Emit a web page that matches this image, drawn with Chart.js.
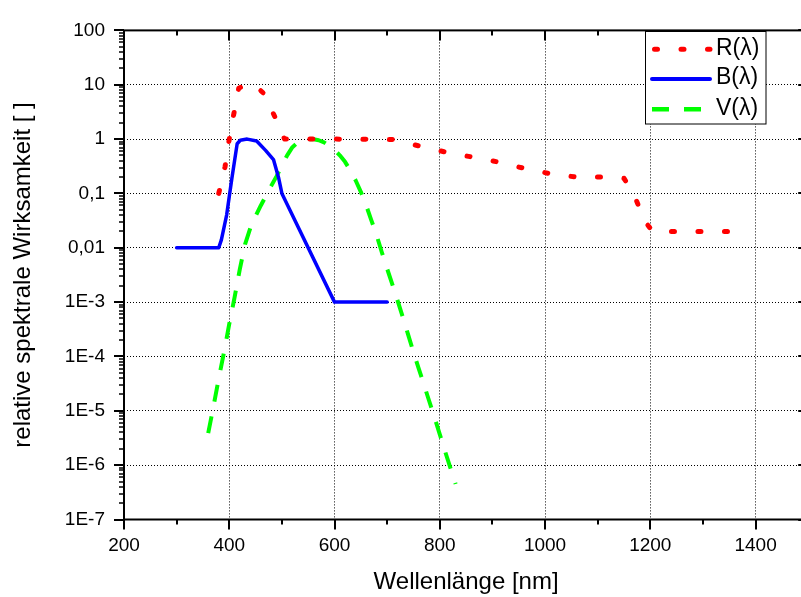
<!DOCTYPE html>
<html><head><meta charset="utf-8">
<script src="https://cdn.jsdelivr.net/npm/chart.js@4.4.0/dist/chart.umd.min.js"></script>
<style>html,body{margin:0;padding:0;background:#fff;overflow:hidden;width:801px;height:597px}canvas{display:block}</style>
</head><body><canvas id="c" width="812" height="597"></canvas>
<script>
// ---- data ----
const rWavelength = [380, 392, 400, 408, 418, 435, 450, 465, 480, 490, 505, 600, 710, 760, 810, 860, 910, 960, 1010, 1060, 1110, 1150, 1170, 1190, 1205, 1370];
const rValues     = [0.1, 0.31, 1.0, 2.7, 8.6, 10.5, 9.5, 7, 3.5, 2.2, 1.0, 1.0, 0.98, 0.75, 0.58, 0.47, 0.38, 0.29, 0.23, 0.2, 0.2, 0.19, 0.09, 0.03, 0.02, 0.02];

const bWavelength = [300, 380, 385, 395, 405, 415, 421, 434, 452, 469, 484, 494, 500, 600, 700];
const bValues     = [0.01, 0.01, 0.014, 0.04, 0.19, 0.82, 0.95, 1.0, 0.92, 0.62, 0.42, 0.19, 0.1, 0.001, 0.001];

const vWavelength = [360, 370, 380, 390, 400, 410, 420, 430, 440, 450, 460, 470, 480, 490, 500, 510, 520, 530, 540, 550, 560, 570, 580, 590, 600, 610, 620, 630, 640, 650, 660, 670, 680, 690, 700, 710, 720, 730, 740, 750, 760, 770, 780, 790, 800, 810, 820, 830];
const vValues     = [3.9e-6, 1.2e-5, 3.9e-5, 1.2e-4, 3.96e-4, 1.21e-3, 4.0e-3, 0.0116, 0.023, 0.038, 0.06, 0.091, 0.139, 0.208, 0.323, 0.503, 0.71, 0.862, 0.954, 0.995, 0.995, 0.952, 0.87, 0.757, 0.631, 0.503, 0.381, 0.265, 0.175, 0.107, 0.061, 0.032, 0.017, 8.2e-3, 4.1e-3, 2.1e-3, 1.05e-3, 5.2e-4, 2.5e-4, 1.2e-4, 6e-5, 3e-5, 1.5e-5, 7.5e-6, 3.7e-6, 1.8e-6, 9e-7, 4.5e-7];

const seriesLabels = ['R(\u03bb)', 'B(\u03bb)', 'V(\u03bb)'];

const xTickValues = [200, 400, 600, 800, 1000, 1200, 1400];
const yTickValues = [1e-7, 1e-6, 1e-5, 1e-4, 1e-3, 0.01, 0.1, 1, 10, 100];
const yTickLabels = ['1E-7', '1E-6', '1E-5', '1E-4', '1E-3', '0,01', '0,1', '1', '10', '100'];

const xTitle = 'Wellenl\u00e4nge [nm]';
const yTitle = 'relative spektrale Wirksamkeit [ ]';

// ---- chart ----
const FONT = '"Liberation Sans", Arial, sans-serif';
const toPoints = (xs, ys) => xs.map((v, i) => ({x: v, y: ys[i]}));

const frameTicks = {
  id: 'frameTicks',
  afterDraw(chart) {
    const {ctx, chartArea: a, scales: {x, y}} = chart;
    ctx.save();
    ctx.setLineDash([]);
    ctx.strokeStyle = '#000';
    ctx.lineWidth = 2;
    const line = (x1, y1, x2, y2) => { ctx.beginPath(); ctx.moveTo(x1, y1); ctx.lineTo(x2, y2); ctx.stroke(); };
    ctx.strokeRect(a.left, a.top, a.right - a.left, a.bottom - a.top);
    const xMin = x.min, xMax = x.max;
    for (let v = xMin; v <= xMax + 1e-6; v += 100) {
      const px = Math.round(x.getPixelForValue(v));
      const len = (Math.round(v) % 200 === 0) ? 10 : 5;
      line(px, a.bottom, px, a.bottom + len);
      line(px, a.top, px, a.top + len);
    }
    for (let e = -7; e <= 2; e++) {
      for (let m = 1; m <= 9; m++) {
        const v = m * Math.pow(10, e);
        if (v > y.max * 1.0001) break;
        const py = Math.round(y.getPixelForValue(v));
        const len = (m === 1) ? 10 : 5;
        ctx.lineWidth = (m === 1) ? 2 : 1.5;
        line(a.left, py, a.left - len, py);
        line(a.right, py, a.right - len, py);
      }
    }
    ctx.restore();
  }
};

const legendBox = {
  id: 'legendBox',
  afterDraw(chart) {
    const {ctx} = chart;
    const bx = 645.5, by = 31.5, bw = 120.5, bh = 92.5;
    ctx.save();
    ctx.fillStyle = '#fff';
    ctx.fillRect(bx, by, bw, bh);
    ctx.strokeStyle = '#000';
    ctx.lineWidth = 1;
    ctx.setLineDash([]);
    ctx.strokeRect(bx, by, bw, bh);
    const rows = [49.3, 79, 109.3];
    chart.data.datasets.forEach((ds, i) => {
      const yy = rows[i];
      ctx.save();
      ctx.strokeStyle = ds.borderColor;
      ctx.lineWidth = ds.legendWidth;
      ctx.lineCap = ds.borderCapStyle;
      ctx.setLineDash(ds.borderDash || []);
      ctx.beginPath();
      ctx.moveTo(ds.legendStart, yy);
      ctx.lineTo(710, yy);
      ctx.stroke();
      ctx.restore();
      ctx.fillStyle = '#000';
      ctx.font = '23px ' + FONT;
      ctx.textBaseline = 'middle';
      ctx.textAlign = 'left';
      ctx.fillText(ds.label, 716, yy - 1);
    });
    ctx.restore();
  }
};

new Chart(document.getElementById('c'), {
  type: 'line',
  data: {
    datasets: [
      {label: seriesLabels[0], data: toPoints(rWavelength, rValues), borderColor: '#ff0000', borderWidth: 5, borderDash: [3, 23.5], borderCapStyle: 'round', borderJoinStyle: 'round', pointRadius: 0, fill: false, tension: 0, legendWidth: 5, legendStart: 654.5},
      {label: seriesLabels[1], data: toPoints(bWavelength, bValues), borderColor: '#0000ff', borderWidth: 3.5, borderCapStyle: 'round', borderJoinStyle: 'round', pointRadius: 0, fill: false, tension: 0, legendWidth: 4, legendStart: 652},
      {label: seriesLabels[2], data: toPoints(vWavelength, vValues), borderColor: '#00ff00', borderWidth: 4, borderDash: [17, 15], borderCapStyle: 'butt', borderJoinStyle: 'round', pointRadius: 0, fill: false, tension: 0, legendWidth: 4.5, legendStart: 652}
    ]
  },
  options: {
    responsive: false,
    devicePixelRatio: 1,
    animation: false,
    layout: {padding: {left: 0, top: 19, right: 3.8, bottom: 0}},
    plugins: {legend: {display: false}, tooltip: {enabled: false}},
    scales: {
      x: {
        type: 'linear', min: 200, max: 1500,
        afterBuildTicks: s => { s.ticks = xTickValues.map(v => ({value: v})); },
        afterFit: s => { s.height = 77.5; },
        grid: {display: true, drawTicks: false, color: '#000', lineWidth: 1},
        border: {display: false, dash: [1, 2]},
        ticks: {autoSkip: false, maxRotation: 0, padding: 15, color: '#000', font: {family: FONT, size: 19}, callback: v => String(v)},
        title: {display: true, text: xTitle, color: '#000', font: {family: FONT, size: 24}, padding: {top: 0, bottom: 0}}
      },
      y: {
        type: 'logarithmic', min: 1e-7, max: 100,
        afterBuildTicks: s => { s.ticks = yTickValues.map(v => ({value: v})); },
        afterFit: s => { s.width = 124; },
        grid: {display: true, drawTicks: false, color: '#000', lineWidth: 1},
        border: {display: false, dash: [1, 2]},
        ticks: {autoSkip: false, padding: 19, color: '#000', font: {family: FONT, size: 19},
          callback: (v) => { const i = yTickValues.findIndex(t => Math.abs(Math.log10(t) - Math.log10(v)) < 1e-6); return i >= 0 ? yTickLabels[i] : ''; }},
        title: {display: true, text: yTitle, color: '#000', font: {family: FONT, size: 24}, padding: {top: 9, bottom: 0}}
      }
    }
  },
  plugins: [frameTicks, legendBox]
});
</script>
</body></html>
